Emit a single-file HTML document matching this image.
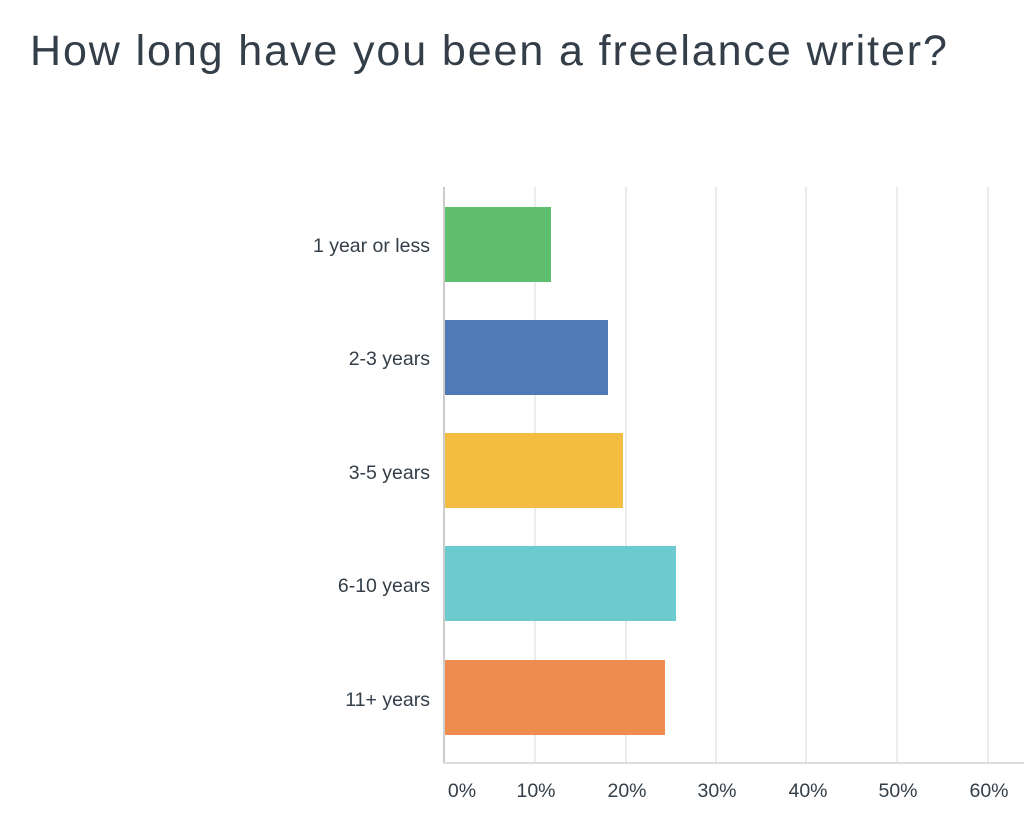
<!DOCTYPE html>
<html><head><style>
body{margin:0;width:1024px;height:829px;background:#fff;position:relative;overflow:hidden;font-family:"Liberation Sans",sans-serif;color:#333e48}
.t{position:absolute;left:30px;top:27px;font-size:43px;white-space:nowrap;letter-spacing:1.9px;font-weight:300}
.g{position:absolute;top:187px;height:576px;width:2px;background:#ececec}
.b{position:absolute;left:445px;height:75px}
.l{position:absolute;right:594px;font-size:19.5px;line-height:20px;white-space:nowrap}
.x{position:absolute;top:780px;font-size:19.5px;width:80px;text-align:center}
</style></head><body>
<div class="t">How long have you been a freelance writer?</div>
<div class="g" style="left:534px"></div><div class="g" style="left:625px"></div><div class="g" style="left:715px"></div><div class="g" style="left:805px"></div><div class="g" style="left:896px"></div><div class="g" style="left:987px"></div>
<div style="position:absolute;left:443px;top:187px;width:2px;height:577px;background:#ccc"></div>
<div style="position:absolute;left:443px;top:762px;width:581px;height:2px;background:#ddd"></div>
<div class="b" style="top:207px;width:106px;background:#5fbf6f"></div>
<div class="b" style="top:320px;width:163px;background:#4e7ab5"></div>
<div class="b" style="top:433px;width:178px;background:#f3bd41"></div>
<div class="b" style="top:546px;width:231px;background:#6ccbce"></div>
<div class="b" style="top:660px;width:220px;background:#ee8b4e"></div>
<div class="l" style="top:236px">1 year or less</div>
<div class="l" style="top:349px">2-3 years</div>
<div class="l" style="top:463px">3-5 years</div>
<div class="l" style="top:576px">6-10 years</div>
<div class="l" style="top:690px">11+ years</div>
<div class="x" style="left:422px">0%</div><div class="x" style="left:496px">10%</div><div class="x" style="left:587px">20%</div><div class="x" style="left:677px">30%</div><div class="x" style="left:768px">40%</div><div class="x" style="left:858px">50%</div><div class="x" style="left:949px">60%</div>
</body></html>
